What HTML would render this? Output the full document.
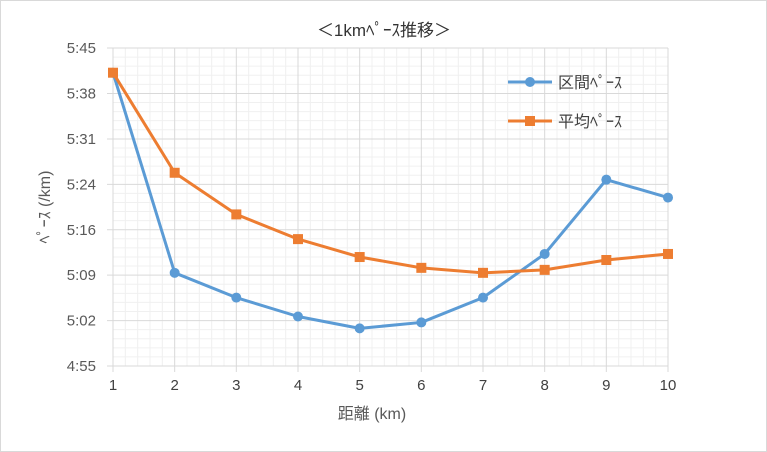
<!DOCTYPE html>
<html><head><meta charset="utf-8"><style>
body{margin:0;background:#fff;}
svg{display:block;font-family:"Liberation Sans","Noto Sans CJK JP",sans-serif;}
</style></head><body>
<svg id="c" width="767" height="452">
<rect x="0.5" y="0.5" width="766" height="451" fill="#fff" stroke="#d9d9d9"/>
<text x="384" y="36" text-anchor="middle" font-size="17" fill="#333">＜1kmﾍﾟｰｽ推移＞</text>
<g id="grid"></g><g id="axes"></g><g id="series"></g>
<text x="372" y="419" text-anchor="middle" font-size="16" fill="#595959">距離 (km)</text>
<text transform="translate(50,207) rotate(-90)" text-anchor="middle" font-size="16" fill="#595959">ﾍﾟｰｽ (/km)</text>
<g>
<line x1="508" y1="82" x2="552" y2="82" stroke="#5b9bd5" stroke-width="3"/>
<circle cx="530" cy="82" r="5" fill="#5b9bd5"/>
<text x="558" y="88" font-size="16" fill="#404040">区間ﾍﾟｰｽ</text>
<line x1="508" y1="121" x2="552" y2="121" stroke="#ed7d31" stroke-width="3"/>
<rect x="525" y="116" width="10" height="10" fill="#ed7d31"/>
<text x="558" y="127" font-size="16" fill="#404040">平均ﾍﾟｰｽ</text>
</g>
</svg>
<script>
const categories=[1,2,3,4,5,6,7,8,9,10];
const segmentPace=[20467,18579,18345,18167,18055,18111,18345,18757,19458,19289];
const averagePace=[20467,19523,19130,18897,18728,18626,18579,18607,18700,18757];
const yTicks=[17700,18128,18557,18985,19414,19842,20271,20700];
const yTickLabels=["4:55","5:02","5:09","5:16","5:24","5:31","5:38","5:45"];
const X0=113,X1=668,Y0=366,Y1=48;
const xs=v=>X0+(v-1)/9*(X1-X0);
const ys=v=>Y0-(v-17700)/3000*(Y0-Y1);
const NS="http://www.w3.org/2000/svg";
function mk(tag,attrs,parent){const e=document.createElementNS(NS,tag);for(const k in attrs)e.setAttribute(k,attrs[k]);parent.appendChild(e);return e;}
const grid=document.getElementById('grid'),axes=document.getElementById('axes'),ser=document.getElementById('series');
for(let i=0;i<9*5;i++){const x=X0+i*(X1-X0)/45;if(i%5){const l=mk('line',{x1:x,x2:x,y1:Y1,y2:Y0,stroke:'#f0f0f0'},grid);}}
for(let i=0;i<7*5;i++){const y=Y0-i*(Y0-Y1)/35;if(i%5){const l=mk('line',{x1:X0,x2:X1,y1:y,y2:y,stroke:'#f0f0f0'},grid);}}
categories.forEach(c=>{const x=xs(c);
const l=mk('line',{x1:x,x2:x,y1:Y1,y2:Y0+6,stroke:'#d9d9d9'},grid);


const t=mk('text',{x:x,y:Y0+24,'text-anchor':'middle','font-size':15,fill:'#404040'},axes);t.textContent=c;

});
yTicks.forEach((v,i)=>{const y=ys(v);
const l=mk('line',{x1:X0-6,x2:X1,y1:y,y2:y,stroke:'#d9d9d9'},grid);


const t=mk('text',{x:X0-17,y:y+5,'text-anchor':'end','font-size':15,fill:'#595959'},axes);t.textContent=yTickLabels[i];

});
function line(vals,color,name,marker){
const p=mk('polyline',{points:vals.map((v,i)=>xs(categories[i])+','+ys(v)).join(' '),fill:'none',stroke:color,'stroke-width':3,'stroke-linejoin':'round'},ser);


vals.forEach((v,i)=>{const x=xs(categories[i]),y=ys(v);let m;
if(marker==='c')m=mk('circle',{cx:x,cy:y,r:5,fill:color},ser);else m=mk('rect',{x:x-5,y:y-5,width:10,height:10,fill:color},ser);

});}
line(segmentPace,'#5b9bd5','segment-pace','c');
line(averagePace,'#ed7d31','average-pace','s');
</script>
</body></html>
